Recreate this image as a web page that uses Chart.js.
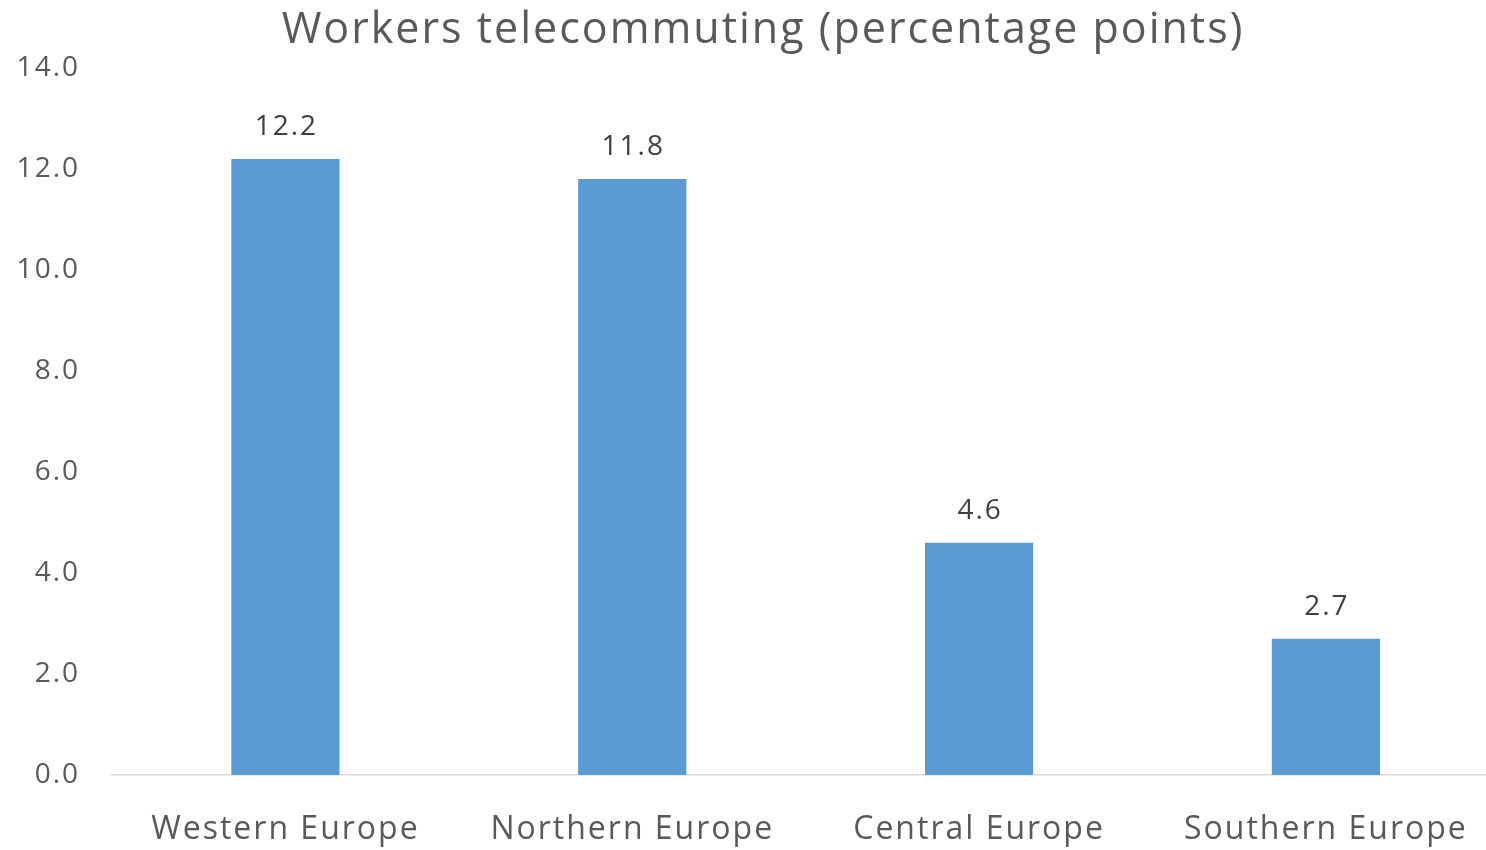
<!DOCTYPE html>
<html>
<head>
<meta charset="utf-8">
<title>Workers telecommuting</title>
<script src="https://cdn.jsdelivr.net/npm/chart.js@4"></script>
<style>
  html, body { margin: 0; padding: 0; background: #fff; overflow: hidden; }
  #wrap { width: 1486px; height: 850px; overflow: hidden; }
  #chart { display: block; }
</style>
</head>
<body>
<div id="wrap"><canvas id="chart" width="1504" height="850"></canvas></div>
<script>
// ── Data ────────────────────────────────────────────────────────
const regions = ['Western Europe', 'Northern Europe', 'Central Europe', 'Southern Europe'];
const telecommuting = [12.2, 11.8, 4.6, 2.7];
const yTicks = [0, 2, 4, 6, 8, 10, 12, 14];
const chartTitle = 'Workers telecommuting (percentage points)';

const FONT = "'Open Sans', sans-serif";
const GREY = '#595959';

// ── Wider letter spacing (the original text is spaced out) ──────
const spacing = {
  id: 'spacing',
  beforeUpdate(chart) { chart.ctx.letterSpacing = '2px'; },
  beforeDraw(chart) { chart.ctx.letterSpacing = '2px'; }
};

// ── Title, centred a bit right of the canvas middle like the original
const topTitle = {
  id: 'topTitle',
  afterDraw(chart) {
    const ctx = chart.ctx;
    ctx.save();
    ctx.letterSpacing = '2px';
    ctx.font = `43px ${FONT}`;
    ctx.fillStyle = GREY;
    ctx.textAlign = 'center';
    ctx.textBaseline = 'middle';
    ctx.fillText(chartTitle, 763, 31);
    ctx.restore();
  }
};

// ── Value labels above bars ─────────────────────────────────────
const barLabels = {
  id: 'barLabels',
  afterDatasetsDraw(chart) {
    const ctx = chart.ctx;
    const meta = chart.getDatasetMeta(0);
    ctx.save();
    ctx.font = `28px ${FONT}`;
    ctx.fillStyle = '#404040';
    ctx.textAlign = 'center';
    ctx.textBaseline = 'middle';
    meta.data.forEach((bar, i) => {
      ctx.fillText(telecommuting[i].toFixed(1), bar.x + 1, bar.y - 32);
    });
    ctx.restore();
  }
};

new Chart(document.getElementById('chart'), {
  type: 'bar',
  data: {
    labels: regions,
    datasets: [{
      data: telecommuting,
      backgroundColor: '#5B9BD5',
      borderWidth: 0,
      categoryPercentage: 1,
      barPercentage: 0.312,
    }]
  },
  options: {
    responsive: false,
    animation: false,
    layout: { padding: { left: 0, right: 2, top: 68, bottom: 0 } },
    plugins: {
      legend: { display: false },
      tooltip: { enabled: false },
      title: { display: false }
    },
    scales: {
      x: {
        grid: { display: false, drawTicks: false },
        border: { color: '#D9D9D9', width: 1.5 },
        ticks: { color: GREY, font: { family: FONT, size: 32 }, padding: 36 },
        afterFit: s => { s.height = 75; }
      },
      y: {
        min: 0, max: 14,
        afterBuildTicks: s => { s.ticks = yTicks.map(v => ({ value: v })); },
        grid: { display: false, drawTicks: false },
        border: { display: false },
        ticks: {
          color: GREY,
          font: { family: FONT, size: 28 },
          padding: 32,
          callback: v => v.toFixed(1)
        },
        afterFit: s => { s.width = 112; }
      }
    }
  },
  plugins: [spacing, topTitle, barLabels]
});
</script>
</body>
</html>
